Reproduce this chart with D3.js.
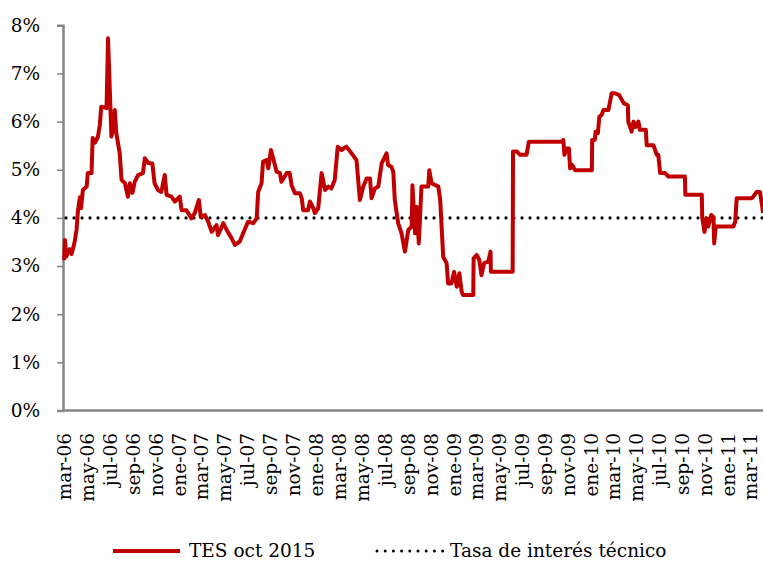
<!DOCTYPE html>
<html>
<head>
<meta charset="utf-8">
<script src="https://cdn.jsdelivr.net/npm/d3@7"></script>
<style>
  body { margin: 0; background: #fff; }
  text { font-family: "DejaVu Serif", "Liberation Serif", serif; fill: #000; }
</style>
</head>
<body>
<svg id="chart" width="763" height="565"></svg>
<script>
// TES oct 2015 yield (percent)
const tesDates = [
  "2006-02-27","2006-03-01","2006-03-05","2006-03-14","2006-03-19","2006-03-27","2006-04-01","2006-04-05",
  "2006-04-10","2006-04-13","2006-04-18","2006-04-28","2006-05-01","2006-05-11","2006-05-14","2006-05-20",
  "2006-05-28","2006-06-02","2006-06-06","2006-06-20","2006-06-24","2006-06-29","2006-07-03","2006-07-07",
  "2006-07-12","2006-07-16","2006-07-25","2006-07-30","2006-08-08","2006-08-16","2006-08-21","2006-08-28",
  "2006-09-03","2006-09-12","2006-09-25","2006-09-30","2006-10-09","2006-10-20","2006-10-26","2006-11-04",
  "2006-11-13","2006-11-22","2006-11-27","2006-12-10","2006-12-19","2007-01-01","2007-01-06","2007-01-19",
  "2007-02-01","2007-02-10","2007-02-21","2007-02-26","2007-03-09","2007-03-18","2007-03-27","2007-04-09",
  "2007-04-13","2007-04-27","2007-05-06","2007-05-19","2007-05-28","2007-06-10","2007-06-19","2007-07-02",
  "2007-07-16","2007-07-25","2007-07-29","2007-08-07","2007-08-11","2007-08-20","2007-08-25","2007-09-01",
  "2007-09-07","2007-09-16","2007-09-25","2007-09-29","2007-10-13","2007-10-21","2007-10-26","2007-11-04",
  "2007-11-17","2007-11-22","2007-11-26","2007-12-09","2007-12-14","2007-12-23","2007-12-27","2008-01-05",
  "2008-01-14","2008-01-18","2008-01-23","2008-02-01","2008-02-09","2008-02-18","2008-02-26","2008-03-07",
  "2008-03-20","2008-04-03","2008-04-16","2008-04-25","2008-05-04","2008-05-13","2008-05-22","2008-05-26",
  "2008-06-04","2008-06-13","2008-06-22","2008-07-05","2008-07-09","2008-07-18","2008-07-23","2008-07-27",
  "2008-08-05","2008-08-14","2008-08-23","2008-09-01","2008-09-10","2008-09-12","2008-09-19","2008-09-23",
  "2008-09-29","2008-10-06","2008-10-24","2008-10-27","2008-11-02","2008-11-20","2008-11-25","2008-12-03",
  "2008-12-12","2008-12-16","2008-12-25","2009-01-01","2009-01-08","2009-01-15","2009-01-21","2009-01-25",
  "2009-02-21","2009-02-22","2009-03-02","2009-03-09","2009-03-15","2009-03-22","2009-04-02","2009-04-08",
  "2009-04-09","2009-06-06","2009-06-07","2009-06-17","2009-06-26","2009-07-13","2009-07-19","2009-10-15",
  "2009-10-19","2009-10-22","2009-10-28","2009-11-03","2009-11-06","2009-11-12","2009-11-19","2010-01-03",
  "2010-01-04","2010-01-11","2010-01-13","2010-01-19","2010-01-23","2010-01-29","2010-02-03","2010-02-16",
  "2010-02-25","2010-03-06","2010-03-17","2010-03-29","2010-04-09","2010-04-10","2010-04-19","2010-04-24",
  "2010-04-30","2010-05-07","2010-05-11","2010-05-27","2010-05-29","2010-06-16","2010-06-25","2010-06-29",
  "2010-07-04","2010-07-17","2010-07-26","2010-09-08","2010-09-09","2010-10-23","2010-10-24","2010-10-30",
  "2010-11-05","2010-11-09","2010-11-17","2010-11-23","2010-11-25","2010-11-29","2011-01-15","2011-01-20",
  "2011-01-24","2011-03-05","2011-03-09","2011-03-18","2011-03-27","2011-04-02","2011-04-04"
];
const tesValues = [
  3.12,3.54,3.20,3.35,3.25,3.50,3.75,4.16,
  4.43,4.20,4.58,4.65,4.93,4.93,5.66,5.56,
  5.68,5.93,6.31,6.28,7.73,6.59,5.69,5.83,
  6.24,5.76,5.35,4.79,4.72,4.44,4.72,4.52,
  4.75,4.89,4.93,5.24,5.14,5.13,4.72,4.58,
  4.54,4.89,4.48,4.44,4.34,4.44,4.16,4.16,
  3.99,4.10,4.37,4.02,4.06,3.92,3.71,3.85,
  3.64,3.89,3.75,3.58,3.44,3.51,3.68,3.92,
  3.89,3.99,4.54,4.72,5.17,5.20,5.03,5.41,
  5.24,4.96,4.93,4.75,4.93,4.93,4.68,4.51,
  4.51,4.41,4.16,4.16,4.34,4.20,4.10,4.20,
  4.93,4.79,4.58,4.65,4.61,4.79,5.48,5.41,
  5.48,5.34,5.20,4.37,4.65,4.82,4.82,4.41,
  4.61,4.65,5.13,5.34,5.10,5.06,4.96,4.37,
  3.89,3.68,3.30,3.75,3.82,4.68,3.68,4.23,
  3.47,4.65,4.65,4.99,4.72,4.65,4.37,3.19,
  3.06,2.64,2.64,2.88,2.57,2.85,2.47,2.40,
  2.40,3.16,3.23,3.13,2.81,3.06,3.09,3.30,
  2.88,2.88,5.38,5.38,5.31,5.31,5.58,5.58,
  5.62,5.31,5.44,5.44,5.03,5.10,4.99,4.99,
  5.62,5.62,5.79,5.76,6.10,6.14,6.24,6.24,
  6.59,6.59,6.55,6.38,6.34,6.00,5.79,6.00,
  5.89,6.00,5.83,5.83,5.51,5.51,5.31,5.31,
  4.93,4.93,4.86,4.86,4.48,4.48,4.02,3.71,
  3.99,3.82,4.06,4.02,3.47,3.82,3.82,3.92,
  4.41,4.41,4.44,4.54,4.54,4.23,4.10
];
const technicalRate = 4;

const xTickLabels = [
  "mar-06","may-06","jul-06","sep-06","nov-06","ene-07","mar-07","may-07","jul-07","sep-07","nov-07",
  "ene-08","mar-08","may-08","jul-08","sep-08","nov-08","ene-09","mar-09","may-09","jul-09","sep-09",
  "nov-09","ene-10","mar-10","may-10","jul-10","sep-10","nov-10","ene-11","mar-11"
];
const firstTick = "2006-03-01";
const yTicks = [0, 1, 2, 3, 4, 5, 6, 7, 8];

const legendNames = ["TES oct 2015", "Tasa de interés técnico"];

const parse = d3.timeParse("%Y-%m-%d");
const series = tesDates.map((d, i) => ({ date: parse(d), value: tesValues[i] }));

const svg = d3.select("#chart");
const plotLeft = 63, plotRight = 763, plotTop = 25.3, plotBottom = 410.5;
const fontSize = 18.5;

const x = d3.scaleTime()
  .domain([parse("2006-02-24"), parse("2011-04-04")])
  .range([plotLeft, plotRight]);
const y = d3.scaleLinear().domain([0, 8]).range([plotBottom, plotTop]);

// y axis
const yAxis = svg.append("g")
  .attr("transform", `translate(${plotLeft},0)`)
  .call(d3.axisLeft(y).tickValues(yTicks).tickSize(6).tickPadding(17).tickFormat(d => d + "%"));
yAxis.select(".domain").attr("stroke", "#868686").attr("stroke-width", 2.5);
yAxis.selectAll(".tick line").attr("stroke", "#868686").attr("stroke-width", 1.5);
yAxis.selectAll("text").attr("font-size", fontSize).style("font-family", "DejaVu Serif, serif");

// x axis (no tick marks, rotated labels every two months)
const tickDates = xTickLabels.map((l, i) => d3.timeMonth.offset(parse(firstTick), 2 * i));
svg.append("line")
  .attr("x1", plotLeft).attr("x2", plotRight)
  .attr("y1", plotBottom).attr("y2", plotBottom)
  .attr("stroke", "#868686").attr("stroke-width", 2.5);
svg.append("g").selectAll("text")
  .data(tickDates)
  .join("text")
  .attr("transform", d => `translate(${x(d)},433) rotate(-90)`)
  .attr("text-anchor", "end")
  .attr("dy", "0.35em")
  .attr("font-size", fontSize)
  .text((d, i) => xTickLabels[i]);

// technical rate (dotted)
svg.append("line")
  .attr("x1", plotLeft + 3).attr("x2", plotRight)
  .attr("y1", y(technicalRate)).attr("y2", y(technicalRate))
  .attr("stroke", "#000").attr("stroke-width", 3.2)
  .attr("stroke-linecap", "round").attr("stroke-dasharray", "0,8");

// TES line
const line = d3.line().x(d => x(d.date)).y(d => y(d.value));
svg.append("path")
  .datum(series)
  .attr("fill", "none")
  .attr("stroke", "#C00000")
  .attr("stroke-width", 4)
  .attr("stroke-linejoin", "round")
  .attr("d", line);

// legend
const legend = svg.append("g");
legend.append("line")
  .attr("x1", 113).attr("x2", 180).attr("y1", 551).attr("y2", 551)
  .attr("stroke", "#C00000").attr("stroke-width", 4);
legend.append("text").attr("x", 189).attr("y", 551).attr("dy", "0.35em")
  .attr("font-size", fontSize).text(legendNames[0]);
legend.append("line")
  .attr("x1", 377).attr("x2", 443).attr("y1", 551).attr("y2", 551)
  .attr("stroke", "#000").attr("stroke-width", 3)
  .attr("stroke-linecap", "round").attr("stroke-dasharray", "0,8.2");
legend.append("text").attr("x", 450).attr("y", 551).attr("dy", "0.35em")
  .attr("font-size", fontSize).text(legendNames[1]);
</script>
</body>
</html>
